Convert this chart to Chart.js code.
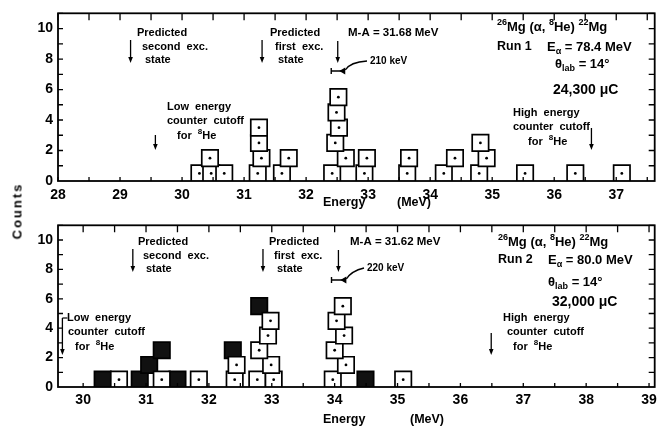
<!DOCTYPE html>
<html><head><meta charset="utf-8">
<script src="https://cdn.jsdelivr.net/npm/chart.js@4.4.1/dist/chart.umd.min.js"></script>
<style>
html,body{margin:0;padding:0;background:#fff;width:668px;height:432px;overflow:hidden;}
#w1{position:absolute;left:0;top:0;width:668px;height:214px;}
#w2{position:absolute;left:0;top:212px;width:668px;height:220px;}
#ylab{position:absolute;left:17px;top:211px;transform:translate(-50%,-50%) rotate(-90deg);font:bold 13px 'Liberation Sans',Arial,sans-serif;letter-spacing:2px;color:#000;white-space:nowrap;}
</style></head><body>
<div id="w1"><canvas id="c1"></canvas></div>
<div id="w2"><canvas id="c2"></canvas></div>
<div id="ylab">Counts</div>
<script>
// ---------- DATA (event energy in MeV, stack level in counts) ----------
const run1Energy = [30.28,30.47,30.68,30.45,31.22,31.28,31.24,31.24,31.61,31.72,32.42,32.64,32.47,32.53,32.49,32.52,32.94,32.98,33.63,33.66,34.22,34.40,34.79,34.91,34.81,35.53,36.34,37.09];
const run1Level  = [0,0,0,1,0,1,2,3,0,1,0,1,2,3,4,5,0,1,0,1,0,1,0,1,2,0,0,0];
const run2OpenEnergy = [30.57,31.25,31.84,32.41,32.44,32.77,33.03,32.99,32.80,32.94,32.98,33.97,34.18,34.00,34.15,34.03,34.13,35.09];
const run2OpenLevel  = [0,0,0,0,1,0,0,1,2,3,4,0,1,2,3,4,5,0];
const run2FilledEnergy = [30.31,30.90,31.05,31.25,31.50,32.38,32.80,34.49];
const run2FilledLevel  = [0,0,1,2,0,2,5,0];
const yTickLabels = ['0','2','4','6','8','10'];
const run1XTicks = ['28','29','30','31','32','33','34','35','36','37'];
const run2XTicks = ['30','31','32','33','34','35','36','37','38','39'];
// marker energies (MeV)
const run1Marks = {second:29.17, first:31.29, ma:32.51, low:29.57, high:36.60, res:0.21};
const run2Marks = {second:30.79, first:32.86, ma:34.06, low:29.67, high:36.49, res:0.22};

const FONT = "'Liberation Sans', Arial, sans-serif";
function pts(E, L){ return E.map((e,i)=>({x:e, y:L[i]+0.5})); }

function rich(ctx, x, y, segs, size){
  let cx = x;
  ctx.textBaseline = 'middle'; ctx.textAlign = 'left';
  for (const [t, k] of segs){
    const s = k==='n' ? size : Math.round(size*0.72);
    ctx.font = 'bold ' + s + 'px ' + FONT;
    const dy = k==='sup' ? -size*0.38 : (k==='sub' ? size*0.32 : 0);
    ctx.fillText(t, cx, y+dy);
    cx += ctx.measureText(t).width;
  }
}
function arrow(ctx, x, y1, y2){
  ctx.beginPath(); ctx.moveTo(x, y1); ctx.lineTo(x, y2-3); ctx.lineWidth = 1.3; ctx.stroke();
  ctx.beginPath(); ctx.moveTo(x-2.3, y2-6); ctx.lineTo(x+2.3, y2-6); ctx.lineTo(x, y2); ctx.closePath(); ctx.fill();
}

const framePlugin = {
  id:'frame',
  afterDraw(chart, args, opts){
    const {ctx, chartArea:a, scales:{x, y}} = chart;
    ctx.save();
    ctx.strokeStyle = '#000'; ctx.fillStyle = '#000';
    ctx.lineWidth = 1.8;
    ctx.strokeRect(a.left, a.top, a.right-a.left, a.bottom-a.top);
    ctx.lineWidth = 1.3;
    ctx.beginPath();
    for (let v = Math.ceil(x.min*2)/2; v <= x.max; v += 0.5){
      const px = x.getPixelForValue(v);
      ctx.moveTo(px, a.top); ctx.lineTo(px, a.top+7);
      ctx.moveTo(px, a.bottom); ctx.lineTo(px, a.bottom-4);
    }
    for (let v = 1; v <= y.max; v += 1){
      const py = y.getPixelForValue(v);
      ctx.moveTo(a.left, py); ctx.lineTo(a.left+5, py);
      ctx.moveTo(a.right, py); ctx.lineTo(a.right-6, py);
    }
    ctx.stroke();
    const oy = opts.oy, m = opts.marks;
    const X = e => x.getPixelForValue(e);
    const T = (t, px, py, size) => rich(ctx, px, py-oy, typeof t === 'string' ? [[t,'n']] : t, size || 11);
    const A = opts.ann;
    // predicted states
    T('Predicted', A.s[0], A.s[1]); T('second  exc.', A.s[0]+5, A.s[1]+14); T('state', A.s[0]+8, A.s[1]+27);
    arrow(ctx, X(m.second), A.s[1]+7-oy, A.s[1]+30-oy);
    T('Predicted', A.f[0], A.f[1]); T('first  exc.', A.f[0]+5, A.f[1]+14); T('state', A.f[0]+8, A.f[1]+27);
    arrow(ctx, X(m.first), A.f[1]+7-oy, A.f[1]+30-oy);
    T(A.maText, A.ma[0], A.ma[1], 11.5);
    arrow(ctx, X(m.ma), A.ma[1]+8-oy, A.ma[1]+30-oy);
    // resolution bracket
    const by = A.ma[1]+38-oy, bl = X(m.ma - m.res/2), br = X(m.ma + m.res/2);
    ctx.lineWidth = 1.4;
    ctx.beginPath(); ctx.moveTo(bl, by); ctx.lineTo(br, by); ctx.moveTo(bl, by-3); ctx.lineTo(bl, by+3); ctx.stroke();
    ctx.beginPath(); ctx.moveTo(br-5, by); ctx.lineTo(br+1, by-3.5); ctx.lineTo(br+1, by+3.5); ctx.closePath(); ctx.fill();
    ctx.beginPath(); ctx.moveTo(br+1, by-1); ctx.quadraticCurveTo(br+6, by-9, A.res[0]-3, A.res[1]-oy); ctx.stroke();
    T(A.resText, A.res[0], A.res[1], 10);
    // counter cutoffs
    T('Low  energy', A.lo[0], A.lo[1]); T('counter  cutoff', A.lo[0]+A.lo[2], A.lo[1]+14);
    T([['for  ','n'],['8','sup'],['He','n']], A.lo[0]+A.lo[3], A.lo[1]+29);
    arrow(ctx, X(m.low), A.loArrow[0]-oy, A.loArrow[1]-oy);
    if (A.loFoot){ ctx.lineWidth=1.2; ctx.beginPath(); ctx.moveTo(X(m.low), A.loArrow[0]-oy); ctx.lineTo(X(m.low)+5, A.loArrow[0]-oy); ctx.stroke(); }
    T('High  energy', A.hi[0], A.hi[1]); T('counter  cutoff', A.hi[0]+A.hi[2], A.hi[1]+14);
    T([['for  ','n'],['8','sup'],['He','n']], A.hi[0]+A.hi[3], A.hi[1]+29);
    arrow(ctx, X(m.high), A.hiArrow[0]-oy, A.hiArrow[1]-oy);
    // reaction block
    T([['26','sup'],['Mg (α, ','n'],['8','sup'],['He) ','n'],['22','sup'],['Mg','n']], A.rx[0], A.rx[1], 13);
    T(A.run, A.rx[0], A.rx[1]+A.rx[2], 12.5);
    T([['E','n'],['α','sub'],[' = ' + A.ea + ' MeV','n']], A.rx[0]+50, A.rx[1]+A.rx[2], 13);
    T([['θ','n'],['lab','sub'],[' = 14°','n']], A.th[0], A.th[1], 13);
    T(A.charge, A.ch[0], A.ch[1], 14);
    // axis title
    T('Energy', 323, A.title, 12.5); T('(MeV)', A.titleX, A.title, 12.5);
    ctx.restore();
  }
};

function makeChart(id, cfg){
  const datasets = [
    {data: cfg.open, pointStyle:'circle', pointRadius:1.4, backgroundColor:'#000', borderColor:'#000', borderWidth:0},
    {data: cfg.open, pointStyle:'rect', pointRadius:11.6, backgroundColor:'#fff', borderColor:'#000', borderWidth:1.7},
    {data: cfg.filled, pointStyle:'rect', pointRadius:11.6, backgroundColor:'#111', borderColor:'#000', borderWidth:1.7}
  ];
  return new Chart(document.getElementById(id), {
    type:'scatter',
    data:{datasets},
    options:{
      responsive:true, maintainAspectRatio:false, animation:false, events:[],
      layout:{padding:{top:cfg.padTop, right:1, left:0, bottom:0}},
      plugins:{legend:{display:false}, tooltip:{enabled:false}, frame:cfg.frame},
      scales:{
        x:{type:'linear', min:cfg.xmin, max:cfg.xmax,
           grid:{display:false, drawTicks:false}, border:{display:false},
           ticks:{stepSize:1, includeBounds:false, autoSkip:false, maxRotation:0, padding:cfg.xpad, color:'#000',
                  font:{family:FONT, size:14, weight:'bold'},
                  callback:(v)=>{ const i = Math.round(v - cfg.xticks0); return cfg.xticks[i] ?? ''; }},
           afterFit(s){ s.height = cfg.xh; s.paddingLeft=0; s.paddingRight=0; }},
        y:{type:'linear', min:0, max:11,
           grid:{display:false, drawTicks:false}, border:{display:false},
           ticks:{stepSize:2, includeBounds:false, padding:5, color:'#000',
                  font:{family:FONT, size:14, weight:'bold'},
                  callback:(v)=> yTickLabels[v/2] ?? ''},
           afterFit(s){ s.width = 58; s.paddingTop=0; s.paddingBottom=0; }}
      }
    },
    plugins:[framePlugin]
  });
}

makeChart('c1', {
  open: pts(run1Energy, run1Level), filled: [],
  xmin:28, xmax:37.62, xticks:run1XTicks, xticks0:28, padTop:8, xh:33, xpad:6,
  frame:{oy:0, marks:run1Marks, ann:{
    s:[137,33], f:[270,33], ma:[348,33], maText:'M-A = 31.68 MeV', res:[370,61], resText:'210 keV',
    lo:[167,107,0,10], loArrow:[135,150], loFoot:false,
    hi:[513,113,0,15], hiArrow:[128,150],
    rx:[497,27,20], run:'Run 1', ea:'78.4', th:[555,64], charge:'24,300 μC', ch:[553,90],
    title:203, titleX:397
  }}
});
makeChart('c2', {
  open: pts(run2OpenEnergy, run2OpenLevel), filled: pts(run2FilledEnergy, run2FilledLevel),
  xmin:29.6, xmax:39.09, xticks:run2XTicks, xticks0:30, padTop:2, xh:45, xpad:5,
  frame:{oy:212, marks:run2Marks, ann:{
    s:[138,242], f:[269,242], ma:[350,242], maText:'M-A = 31.62 MeV', res:[367,268], resText:'220 keV',
    lo:[67,318,1,8], loArrow:[318,355], loFoot:true,
    hi:[503,318,4,10], hiArrow:[333,355],
    rx:[498,242,18], run:'Run 2', ea:'80.0', th:[548,282], charge:'32,000 μC', ch:[552,302],
    title:420, titleX:410
  }}
});
</script>
</body></html>
